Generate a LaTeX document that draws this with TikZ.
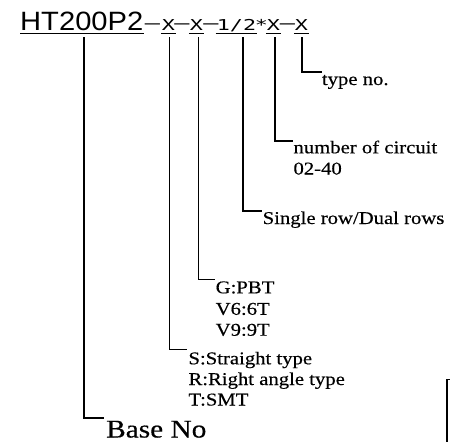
\documentclass[tikz,border=0pt]{standalone}
\usepackage{fontspec}
\newfontfamily\titlefont{Liberation Sans}[FakeStretch=1.1]
\newfontfamily\codefont{DejaVu Sans Mono}[FakeStretch=1.45]
\newfontfamily\dashfont{DejaVu Sans Mono}[FakeStretch=4]
\newfontfamily\annfont{Liberation Serif}[FakeStretch=1.15,FakeBold=0.4]
\begin{document}
\begin{tikzpicture}[x=1pt,y=-1pt,
  titletext/.style={font=\titlefont\fontsize{26.5}{30}\selectfont, inner sep=0pt, anchor=base west},
  codetext/.style={font=\codefont\fontsize{15}{17}\selectfont, inner sep=0pt, anchor=base},
  dashtext/.style={font=\dashfont\fontsize{15}{17}\selectfont, inner sep=0pt, anchor=base},
  anntext/.style={font=\annfont\fontsize{18}{21}\selectfont, inner sep=0pt, anchor=base west},
  bigtext/.style={font=\annfont\fontsize{25.5}{30}\selectfont, inner sep=0pt, anchor=base west},
  leader/.style={line width=1.6pt},
  uline/.style={line width=1.2pt}]
\useasboundingbox (0,0) rectangle (450,442);
% code string
\node[titletext] (t0) at (20,30) {HT200P2};
\node[dashtext] (d1) at (152.5,28) {-};
\node[codetext] (x1) at (168.5,30) {X};
\node[dashtext] (d2) at (182,28) {-};
\node[codetext] (x2) at (196.5,30) {X};
\node[dashtext] (d3) at (211,28) {-};
\node[codetext] (h) at (236.5,30) {1/2};
\node[codetext] (st) at (261.5,30) {*};
\node[codetext] (x3) at (273.5,30) {X};
\node[dashtext] (d4) at (287.5,28) {-};
\node[codetext] (x4) at (301.5,30) {X};
% underlines
\draw[uline] ([yshift=-3.3pt]t0.base west) -- ([yshift=-3.3pt]t0.base east);
\foreach \n in {x1,x2,h,x3,x4}
  \draw[uline] ([xshift=-1pt,yshift=-3.3pt]\n.base west) -- ([xshift=1pt,yshift=-3.3pt]\n.base east);
% labels
\node[anntext] (lType) at (321.7,85) {type no.};
\node[anntext] (lNum1) at (293.3,153.3) {number of circuit};
\node[anntext] (lNum2) at (293.3,174.5) {02-40};
\node[anntext] (lRow) at (262.5,224) {Single row/Dual rows};
\node[anntext] (lG1) at (215.5,293.3) {G:PBT};
\node[anntext] (lG2) at (215.5,314.8) {V6:6T};
\node[anntext] (lG3) at (215.5,335.7) {V9:9T};
\node[anntext] (lS1) at (188.3,364.3) {S:Straight type};
\node[anntext] (lS2) at (188.3,385) {R:Right angle type};
\node[anntext] (lS3) at (188.3,405.5) {T:SMT};
\node[bigtext] (lBase) at (106,437.5) {Base No};
% leaders
\draw[leader] ([xshift=2pt,yshift=-7pt]t0.base) |- ([xshift=-2pt,yshift=19.5pt]lBase.base west);
\draw[leader] ([xshift=1pt,yshift=-7pt]x1.base) |- ([xshift=-1.5pt,yshift=15pt]lS1.base west);
\draw[leader] ([xshift=1.8pt,yshift=-7pt]x2.base) |- ([xshift=-0.5pt,yshift=14pt]lG1.base west);
\draw[leader] ([xshift=6.5pt,yshift=-7pt]h.base) |- ([xshift=-1pt,yshift=13pt]lRow.base west);
\draw[leader] ([xshift=1.5pt,yshift=-7pt]x3.base) |- ([yshift=12.6pt]lNum1.base west);
\draw[leader] ([xshift=0.5pt,yshift=-7pt]x4.base) |- ([yshift=13.3pt]lType.base west);
% partial frame at bottom right
\draw[line width=1.2pt] (450,379.5) -- (447,379.5) -- (447,442);
\end{tikzpicture}
\end{document}
